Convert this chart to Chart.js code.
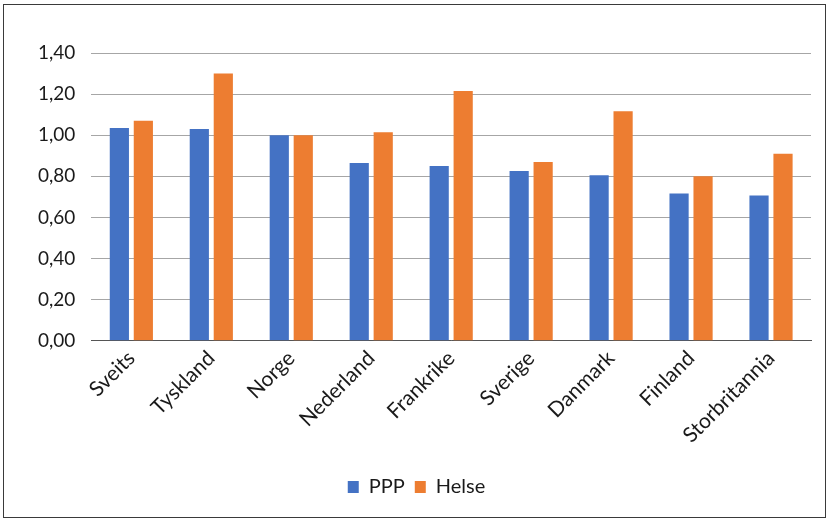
<!DOCTYPE html>
<html>
<head>
<meta charset="utf-8">
<script src="https://cdn.jsdelivr.net/npm/chart.js@4"></script>
<style>
    body { margin: 0; background: #fff; }
    #frame {
        position: absolute; left: 3px; top: 4px;
        width: 821px; height: 512px;
        border: 1px solid #3a3a3a;
    }
</style>
</head>
<body>
<div id="frame"><canvas id="chart" width="821" height="512"></canvas></div>
<script>
const countries = ['Sveits', 'Tyskland', 'Norge', 'Nederland', 'Frankrike', 'Sverige', 'Danmark', 'Finland', 'Storbritannia'];
const pppValues = [1.035, 1.03, 1.00, 0.865, 0.85, 0.826, 0.805, 0.717, 0.707];
const helseValues = [1.07, 1.30, 1.00, 1.015, 1.215, 0.87, 1.117, 0.80, 0.91];
const yTicks = [0, 0.2, 0.4, 0.6, 0.8, 1.0, 1.2, 1.4];

const fontFamily = "Lato, 'Open Sans', sans-serif";

const ctx = document.getElementById('chart').getContext('2d');
new Chart(ctx, {
    type: 'bar',
    data: {
        labels: countries,
        datasets: [{
            label: 'PPP',
            data: pppValues,
            backgroundColor: '#4472C4'
        }, {
            label: 'Helse',
            data: helseValues,
            backgroundColor: '#ED7D31'
        }]
    },
    options: {
        responsive: false,
        animation: false,
        datasets: {
            bar: { categoryPercentage: 0.6, barPercentage: 0.8 }
        },
        layout: {
            padding: { top: 48, right: 14, left: 18, bottom: 10 }
        },
        plugins: {
            legend: {
                position: 'bottom',
                labels: {
                    boxWidth: 11,
                    boxHeight: 12,
                    padding: 10,
                    color: '#1a1a1a',
                    font: { family: fontFamily, size: 20 }
                }
            },
            tooltip: { enabled: false }
        },
        scales: {
            x: {
                grid: { display: false, drawTicks: false },
                border: { color: '#555', width: 1 },
                afterFit: scale => { scale.height += 14; },
                ticks: {
                    maxRotation: 45,
                    minRotation: 45,
                    color: '#1a1a1a',
                    padding: 5,
                    font: { family: fontFamily, size: 21 }
                }
            },
            y: {
                min: 0,
                max: 1.4,
                afterBuildTicks: axis => {
                    axis.ticks = yTicks.map(v => ({ value: v }));
                },
                grid: { color: '#a6a6a6', lineWidth: 1, drawTicks: false },
                border: { display: false },
                ticks: {
                    padding: 16,
                    color: '#1a1a1a',
                    font: { family: fontFamily, size: 19 },
                    callback: v => v.toFixed(2).replace('.', ',')
                }
            }
        }
    }
});
</script>
</body>
</html>
